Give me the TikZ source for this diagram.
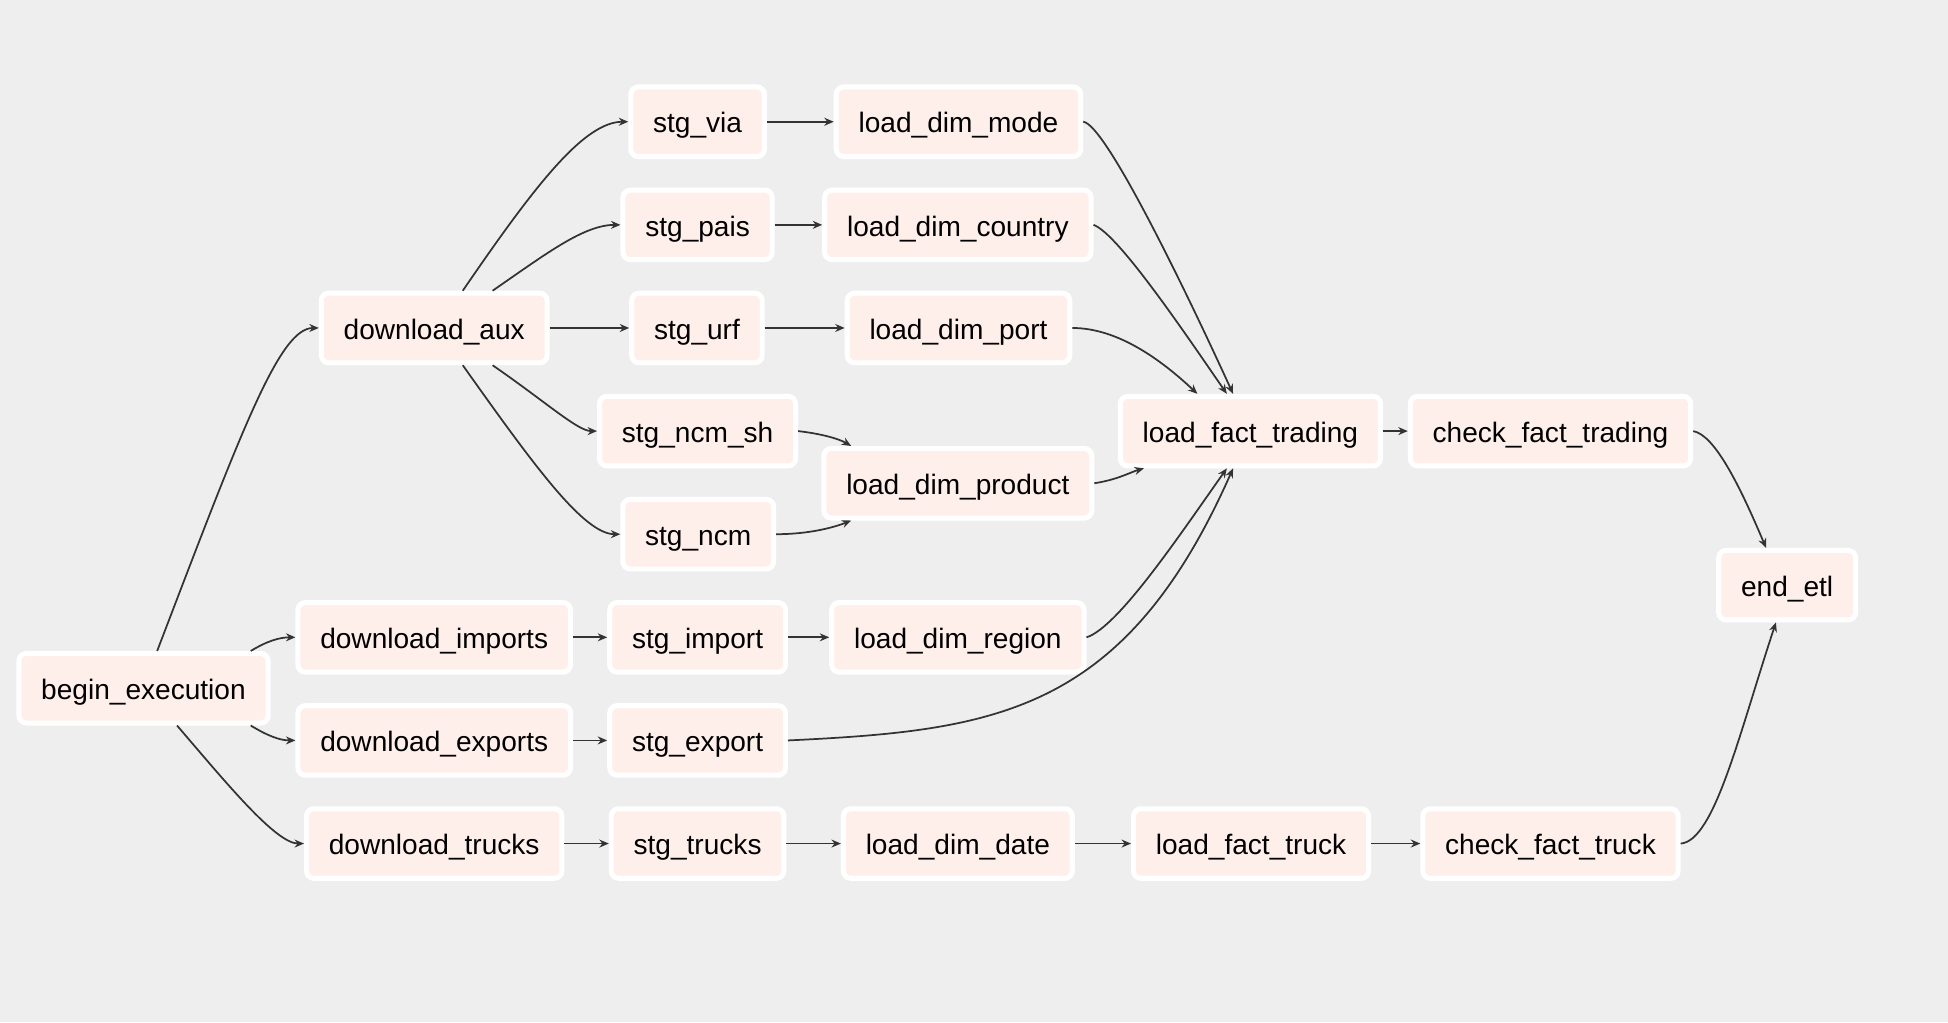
\documentclass[tikz,border=0pt]{standalone}
\usepackage{fontspec}
\setmainfont{Liberation Sans}
\usetikzlibrary{arrows.meta,calc}
\definecolor{canvas}{HTML}{EEEEEE}
\definecolor{taskfill}{HTML}{FFEFEB}
\definecolor{edgecol}{HTML}{333333}
\begin{document}
\begin{tikzpicture}[x=0.5pt,y=-0.5pt,
  task/.style={draw=white, line width=2pt, fill=taskfill, rounded corners=3pt,
    inner xsep=9pt, inner ysep=0pt, minimum height=28pt,
    text height=11pt, text depth=2pt,
    font=\fontsize{11.3}{13}\selectfont, text=black},
  flow/.style={draw=edgecol, line width=0.7pt, -{Stealth[length=3.8pt,width=3.2pt]}}]
\fill[canvas] (0,0) rectangle (1568,823);
\useasboundingbox (0,0) rectangle (1568,823);

% tasks
\node[task] (begin)    at (115.5,554) {begin\_execution};
\node[task] (daux)     at (349.5,264) {download\_aux};
\node[task] (dimp)     at (349.5,513) {download\_imports};
\node[task] (dexp)     at (349.5,596) {download\_exports};
\node[task] (dtrk)     at (349.5,679) {download\_trucks};
\node[task] (svia)     at (561.5,98)  {stg\_via};
\node[task] (spais)    at (561.5,181) {stg\_pais};
\node[task] (surf)     at (561,264)   {stg\_urf};
\node[task] (sncmsh)   at (561.5,347) {stg\_ncm\_sh};
\node[task] (sncm)     at (562,430)   {stg\_ncm};
\node[task] (simp)     at (561.5,513) {stg\_import};
\node[task] (sexp)     at (561.5,596) {stg\_export};
\node[task] (strk)     at (561.5,679) {stg\_trucks};
\node[task] (lmode)    at (771.5,98)  {load\_dim\_mode};
\node[task] (lcountry) at (771,181)   {load\_dim\_country};
\node[task] (lport)    at (771.5,264) {load\_dim\_port};
\node[task] (lprod)    at (771,389)   {load\_dim\_product};
\node[task] (lregion)  at (771,513)   {load\_dim\_region};
\node[task] (ldate)    at (771,679)   {load\_dim\_date};
\node[task] (ftrade)   at (1006.5,347) {load\_fact\_trading};
\node[task] (ftruck)   at (1007,679)  {load\_fact\_truck};
\node[task] (ctrade)   at (1248,347)  {check\_fact\_trading};
\node[task] (ctruck)   at (1248,679)  {check\_fact\_truck};
\node[task] (endetl)   at (1438.5,471) {end\_etl};

% begin_execution fan-out
\draw[flow] ($(begin.north)+(11,0)$) .. controls (195,345) and (225,264) .. (daux.west);
\draw[flow] ($(begin.north east)+(-16,0)$) .. controls (215,516) and (225,513) .. (dimp.west);
\draw[flow] ($(begin.south east)+(-16,0)$) .. controls (215,592) and (225,596) .. (dexp.west);
\draw[flow] ($(begin.south)+(27,0)$) .. controls (182,630) and (222,679) .. (dtrk.west);

% download_aux fan-out
\draw[flow] ($(daux.north)+(23,0)$) .. controls (430,150) and (470,98) .. (svia.west);
\draw[flow] ($(daux.north)+(47,0)$) .. controls (440,204) and (470,181) .. (spais.west);
\draw[flow] (daux.east) -- (surf.west);
\draw[flow] ($(daux.south)+(47,0)$) .. controls (440,324) and (465,347) .. (sncmsh.west);
\draw[flow] ($(daux.south)+(23,0)$) .. controls (430,375) and (470,430) .. (sncm.west);

% straight chains
\draw[flow] (svia.east) -- (lmode.west);
\draw[flow] (spais.east) -- (lcountry.west);
\draw[flow] (surf.east) -- (lport.west);
\draw[flow] (dimp.east) -- (simp.west);
\draw[flow] (simp.east) -- (lregion.west);
\draw[flow] (dexp.east) -- (sexp.west);
\draw[flow] (dtrk.east) -- (strk.west);
\draw[flow] (strk.east) -- (ldate.west);
\draw[flow] (ldate.east) -- (ftruck.west);
\draw[flow] (ftruck.east) -- (ctruck.west);
\draw[flow] (ftrade.east) -- (ctrade.west);

% staging into load_dim_product
\draw[flow] (sncmsh.east) .. controls (660,349) and (675,353) .. ($(lprod.north west)+(24,0)$);
\draw[flow] (sncm.east) .. controls (650,430) and (670,425) .. ($(lprod.south west)+(24,0)$);

% dimensions into load_fact_trading
\draw[flow] (lmode.east) .. controls (890,100) and (955,235) .. ($(ftrade.north)+(-14,0)$);
\draw[flow] (lcountry.east) .. controls (900,188) and (955,270) .. ($(ftrade.north)+(-19,0)$);
\draw[flow] (lport.east) .. controls (900,264) and (935,290) .. ($(ftrade.north west)+(64,0)$);
\draw[flow] (lprod.east) .. controls (900,386) and (910,380) .. ($(ftrade.south west)+(21,0)$);
\draw[flow] (lregion.east) .. controls (900,505) and (950,430) .. ($(ftrade.south)+(-19,0)$);
\draw[flow] (sexp.east) .. controls (800,588) and (905,575) .. ($(ftrade.south)+(-14,0)$);

% checks into end_etl
\draw[flow] (ctrade.east) .. controls (1380,350) and (1400,390) .. ($(endetl.north)+(-17,0)$);
\draw[flow] (ctruck.east) .. controls (1380,677) and (1400,590) .. ($(endetl.south)+(-9,0)$);
\end{tikzpicture}
\end{document}
